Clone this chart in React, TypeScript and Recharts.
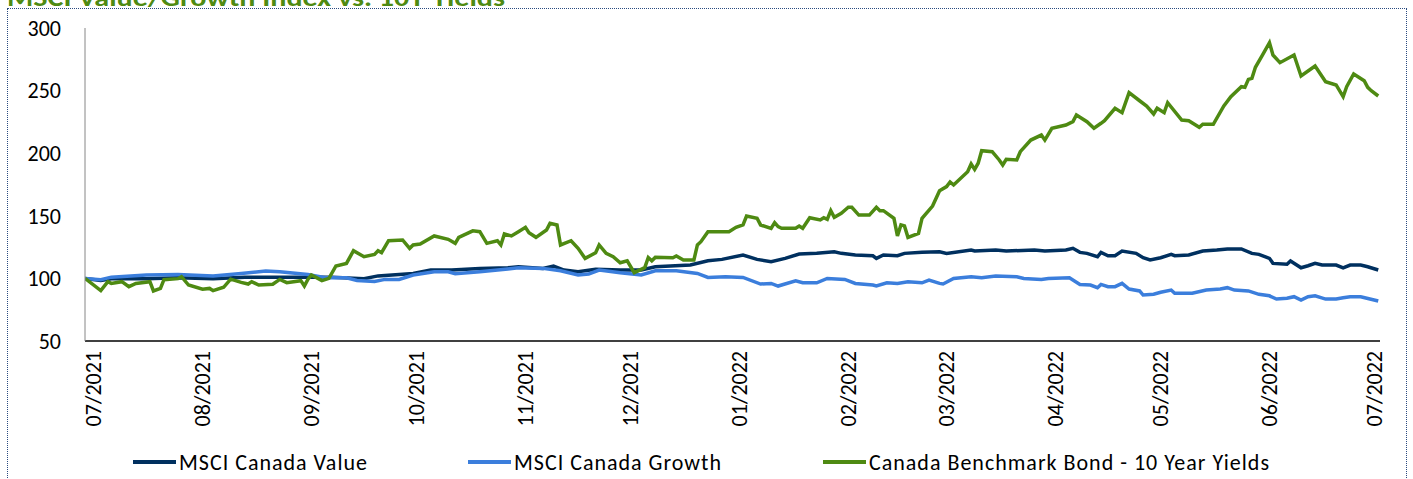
import { LineChart, Line, XAxis, YAxis } from 'recharts';

const FONT = 'Carlito, Calibri, Lato, sans-serif';

// x positions are days since 07/2021
const monthTicks = [0, 31, 62, 92, 123, 153, 184, 215, 243, 274, 304, 335, 365];
const monthLabels = [
  '07/2021', '08/2021', '09/2021', '10/2021', '11/2021', '12/2021',
  '01/2022', '02/2022', '03/2022', '04/2022', '05/2022', '06/2022', '07/2022',
];
const yTicks = [50, 100, 150, 200, 250, 300];

const valueDays = [
  -2.5, 2, 5, 15, 24, 34, 43, 53, 62, 68, 77, 81, 91, 96, 102, 110, 118, 121, 128, 131,
  134, 138, 143, 150, 156, 160, 170, 175, 179, 185, 189, 193, 197, 201, 206, 211, 213, 217, 222, 223,
  225, 229, 231, 236, 241, 243, 250, 251, 257, 260, 268, 271, 277, 279, 281, 283, 286, 287, 289, 291,
  293, 297, 299, 301, 304, 307, 308, 312, 316, 320, 323, 327, 330, 332, 335, 336, 340, 341, 344, 346,
  348, 350, 354, 356, 358, 361, 363, 366,
];
const valueVals = [
  100, 98.4, 99.8, 99.8, 100.6, 99.8, 101, 101, 101, 101, 99.8, 102, 104, 106.7, 106.7, 108, 108.5, 109.3, 108, 109.9,
  106.7, 105.3, 107.3, 106.7, 106.7, 109.3, 110.7, 114.1, 115.2, 118.7, 115.2, 113.3, 116, 119.5, 120, 121.3, 120, 118.7, 118.1, 116,
  118.7, 118.1, 120, 120.8, 121.3, 120, 122.7, 121.9, 122.7, 121.9, 122.7, 121.9, 122.7, 124, 120.8, 120, 117.3, 120.8, 118.1, 118.1,
  121.9, 120, 116.5, 114.7, 116.5, 119.2, 118.1, 118.7, 121.9, 122.7, 123.5, 123.5, 120, 119.2, 116, 112, 111.3, 113.9, 108.5, 110.1,
  112, 110.7, 110.7, 108.5, 110.7, 110.7, 109.3, 106.7,
];

const growthDays = [
  -2.5, 2, 5, 15, 24, 34, 42, 49, 53, 61, 66, 72, 75, 80, 83, 87, 91, 97, 101, 103,
  110, 118, 121, 128, 133, 138, 141, 144, 150, 156, 160, 166, 172, 175, 180, 185, 190, 193, 195, 200,
  202, 206, 209, 214, 217, 222, 223, 226, 229, 232, 236, 238, 241, 242, 245, 250, 253, 257, 263, 265,
  270, 272, 278, 281, 284, 286, 287, 289, 291, 293, 295, 298, 299, 302, 304, 307, 308, 313, 317, 321,
  323, 325, 329, 332, 335, 337, 340, 342, 344, 346, 348, 351, 354, 356, 358, 361, 366,
];
const growthVals = [
  100, 99, 101, 102.7, 103.2, 102, 104, 105.9, 105.3, 103.2, 100.5, 100.5, 98.4, 97.6, 99.2, 99.2, 102.7, 105.3, 105.3, 103.7,
  105.3, 107.5, 108.5, 108, 106.1, 102.7, 103.5, 106.7, 104.5, 102.7, 106.1, 106.1, 104, 100.8, 101.3, 100.8, 95.5, 96, 93.9, 98.1,
  96.5, 96.5, 100, 99.2, 96, 94.7, 93.9, 96.5, 96, 97.4, 96.5, 98.7, 96, 95.5, 100, 101.3, 100.5, 102, 101.3, 100,
  99.2, 100, 100.5, 95.2, 94.7, 92.6, 95.2, 93.4, 93.4, 96, 91.5, 90, 86.7, 87.3, 88.9, 90.7, 88.1, 88.1, 90.7, 91.5,
  92.6, 90.7, 90, 87.3, 86.1, 83.5, 84.1, 85.4, 82.7, 85.4, 86.1, 83.5, 83.5, 84.6, 85.4, 85.4, 81.9,
];

const bondDays = [
  -2.5, 2, 4, 5, 8, 10, 12, 16, 17, 19, 20, 24, 25, 27, 31, 33, 34, 37, 39, 42,
  44, 45, 47, 51, 53, 55, 59, 60, 61, 62, 65, 67, 69, 72, 74, 77, 80, 81, 82, 84,
  88, 90, 91, 93, 97, 101, 103, 104, 108, 110, 112, 115, 116, 117, 119, 121, 123, 124, 126, 129,
  130, 132, 133, 136, 138, 140, 143, 144, 146, 148, 150, 152, 154, 157, 158, 159, 160, 165, 166, 168,
  171, 172, 173, 175, 181, 183, 185, 186, 189, 190, 193, 194, 195, 196, 200, 201, 202, 204, 207, 208,
  209, 210, 211, 213, 215, 216, 218, 221, 223, 224, 225, 228, 229, 230, 231, 232, 235, 236, 239, 241,
  243, 244, 245, 249, 250, 251, 252, 253, 256, 258, 259, 260, 263, 264, 267, 270, 271, 273, 277, 279,
  280, 283, 285, 287, 288, 291, 293, 295, 298, 300, 302, 303, 305, 306, 310, 312, 315, 316, 319, 322,
  324, 327, 328, 329, 330, 331, 333, 335, 336, 338, 342, 344, 348, 351, 354, 356, 357, 359, 362, 363,
  364, 366,
];
const bondVals = [
  100, 90.2, 97.4, 96, 97.4, 93.4, 96, 97.4, 90, 92, 99, 99.8, 101.4, 94.7, 91.3, 92, 90.2, 92.9, 99.4, 96.8,
  95.5, 97.4, 94.7, 95.3, 99.2, 96.6, 98.2, 93.9, 99.2, 102.7, 98.2, 100, 109.9, 112, 122.1, 117.3, 119.2, 122.1, 120.5, 130.1,
  130.7, 124, 126.7, 127.5, 133.9, 131.2, 128, 132.8, 138, 137.3, 128, 130.1, 126.7, 135.5, 133.9, 137.3, 140.8, 136.5, 132.8, 138.7,
  144, 142.7, 126.7, 130.1, 124, 116, 120.5, 126.7, 120, 117.3, 112.5, 114.1, 104.6, 108.6, 116.7, 114.1, 116.8, 116.5, 117.9, 114.7,
  114.7, 126.7, 129.3, 137.3, 137.3, 140.8, 142.7, 149.8, 148, 142.7, 140, 144.5, 141.3, 140, 140, 141.8, 140, 148.5, 146.7, 148.5,
  147.2, 154.1, 148.8, 152, 156.8, 156.8, 150.6, 150.6, 156.8, 154.1, 154.1, 148, 133.9, 142.7, 141.9, 132.8, 136, 148, 157.8, 170,
  173.3, 177, 174.6, 185.2, 191.4, 187.1, 192, 202, 201.2, 194.6, 190.6, 195.1, 194.6, 201.2, 210.5, 214.5, 210.5, 219.9, 222.5, 225.2,
  230.5, 225.2, 219.9, 223.9, 226, 235.9, 232.4, 248.4, 241.9, 237.7, 231.3, 235.9, 232.4, 240.3, 226.5, 226, 220.7, 223.1, 223.1, 237.7,
  245.1, 253.1, 252.6, 259, 259.8, 268.6, 278.4, 288.3, 278.4, 272.3, 278.4, 261.7, 269.6, 257.1, 254.5, 245.1, 253.1, 263.3, 257.9, 252.6,
  249.9, 245.7,
];

const SERIES = [
  { name: 'MSCI Canada Value', color: '#00305F', days: valueDays, vals: valueVals },
  { name: 'MSCI Canada Growth', color: '#3B7EDC', days: growthDays, vals: growthVals },
  { name: 'Canada Benchmark Bond - 10 Year Yields', color: '#4E8A12', days: bondDays, vals: bondVals },
];

const LEGEND_X = [133, 468, 823];

const toRows = (days: number[], vals: number[]) => days.map((d, i) => ({ d, v: vals[i] }));

function MonthTick(props: any) {
  const { x, y, payload } = props;
  const label = monthLabels[monthTicks.indexOf(payload.value)];
  return (
    <text
      x={x}
      y={y}
      transform={`rotate(-90 ${x} ${y})`}
      textAnchor="end"
      dominantBaseline="central"
      fontSize={22}
      fontFamily={FONT}
      fill="#000"
    >
      {label}
    </text>
  );
}

export default function App() {
  return (
    <div
      style={{
        position: 'absolute',
        left: 0,
        top: 0,
        width: 1413,
        height: 479,
        overflow: 'hidden',
        background: '#fff',
        fontFamily: FONT,
      }}
    >
      <div
        style={{
          position: 'absolute',
          left: 7,
          top: 8,
          width: 1400,
          height: 500,
          border: '1px dotted #2A4A80',
          boxSizing: 'border-box',
        }}
      />
      <svg style={{ position: 'absolute', left: 0, top: 0 }} width={700} height={20}>
        <text
          x={7}
          y={6}
          fontSize={24}
          fontWeight="bold"
          fontFamily={FONT}
          fill="#4E8A12"
          textLength={498}
          lengthAdjust="spacingAndGlyphs"
        >
          MSCI Value/Growth Index vs. 10Y Yields
        </text>
      </svg>
      <div style={{ position: 'absolute', left: 0, top: 0 }}>
        <LineChart width={1413} height={479} margin={{ top: 28, right: 33, bottom: 50, left: 0 }}>
          <XAxis
            dataKey="d"
            type="number"
            domain={[-2.5, 366.5]}
            ticks={monthTicks}
            allowDataOverflow
            interval={0}
            height={88}
            tickLine={false}
            tickSize={0}
            tickMargin={10}
            axisLine={{ stroke: '#000', strokeWidth: 1.5 }}
            tick={<MonthTick />}
          />
          <YAxis
            type="number"
            domain={[50, 300]}
            ticks={yTicks}
            width={85}
            tickLine={false}
            tickSize={6}
            tickMargin={18}
            axisLine={{ stroke: '#868686', strokeWidth: 1 }}
            tick={{ fill: '#000', fontSize: 22, fontFamily: FONT }}
          />
          {SERIES.map((s) => (
            <Line
              key={s.name}
              data={toRows(s.days, s.vals)}
              dataKey="v"
              name={s.name}
              type="linear"
              stroke={s.color}
              strokeWidth={3.5}
              dot={false}
              activeDot={false}
              isAnimationActive={false}
            />
          ))}
        </LineChart>
      </div>
      {SERIES.map((s, i) => (
        <div
          key={s.name}
          style={{
            position: 'absolute',
            left: LEGEND_X[i],
            top: 449,
            height: 26,
            display: 'flex',
            alignItems: 'center',
            fontSize: 22,
            letterSpacing: 1,
            color: '#000',
            whiteSpace: 'nowrap',
          }}
        >
          <span style={{ display: 'inline-block', width: 43, height: 4, background: s.color, marginRight: 3 }} />
          {s.name}
        </div>
      ))}
    </div>
  );
}
